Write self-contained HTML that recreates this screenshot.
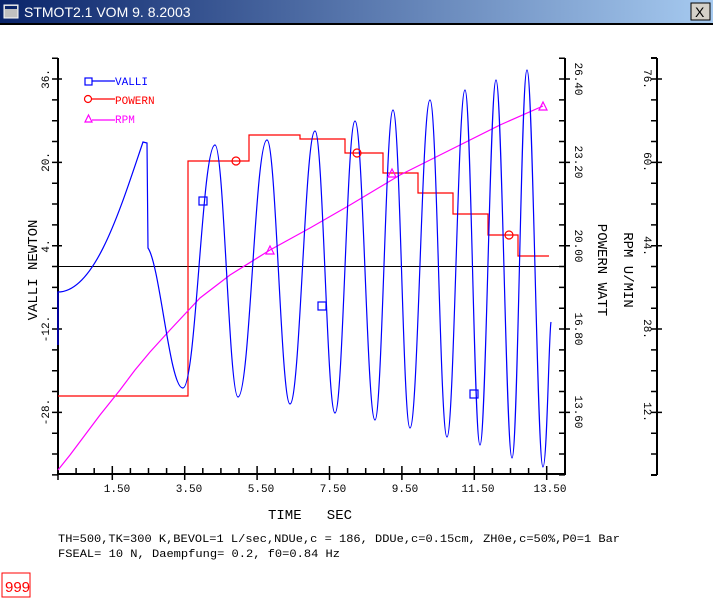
<!DOCTYPE html>
<html><head><meta charset="utf-8"><style>
html,body{margin:0;padding:0;background:#fff;width:713px;height:600px;overflow:hidden}
svg{display:block}
text{font-family:"Liberation Mono",monospace}
</style></head><body>
<svg width="713" height="600" viewBox="0 0 713 600" xmlns="http://www.w3.org/2000/svg">
<defs><linearGradient id="tb" x1="0" x2="1"><stop offset="0" stop-color="#0a246a"/><stop offset="1" stop-color="#a6caf0"/></linearGradient></defs>
<rect x="0" y="0" width="713" height="23" fill="url(#tb)"/>
<rect x="0" y="23" width="713" height="2" fill="#000"/>
<rect x="4" y="5" width="14" height="13" fill="#c0c0c0" stroke="#fff" stroke-width="1"/>
<rect x="5" y="6" width="12" height="3" fill="#0a246a"/>
<text x="24" y="17" font-size="14" fill="#fff" style="font-family:'Liberation Sans',sans-serif">STMOT2.1 VOM  9. 8.2003</text>
<rect x="691" y="3" width="19" height="17" fill="#d4d0c8" stroke="#000" stroke-width="1"/>
<text x="695" y="17" font-size="14" fill="#000" style="font-family:'Liberation Sans',sans-serif">X</text>

<g stroke="#000" stroke-width="2" fill="none">
<path d="M58 58V475M565 58V475M657 58V475M58 474H565M651 58h6M651 475h6"/>
</g>
<g stroke="#000" stroke-width="1.5" fill="none">
<path d="M52 58.2h6M52 99.9h6M52 120.7h6M52 141.5h6M52 183.2h6M52 204h6M52 224.9h6M52 266.5h6M52 287.4h6M52 308.2h6M52 349.9h6M52 370.7h6M52 391.5h6M52 433.2h6M52 454h6M52 474.9h6M52 79h10M52 162.4h10M52 245.7h10M52 329h10M52 412.4h10"/>
<path d="M559 58.2h6M559 99.9h6M559 120.7h6M559 141.5h6M559 183.2h6M559 204h6M559 224.9h6M559 266.5h6M559 287.4h6M559 308.2h6M559 349.9h6M559 370.7h6M559 391.5h6M559 433.2h6M559 454h6M559 474.9h6M559 79h11M559 162.4h11M559 245.7h11M559 329h11M559 412.4h11"/>
<path d="M651 99.9h6M651 120.7h6M651 141.5h6M651 183.2h6M651 204h6M651 224.9h6M651 266.5h6M651 287.4h6M651 308.2h6M651 349.9h6M651 370.7h6M651 391.5h6M651 433.2h6M651 454h6M651 79h11M651 162.4h11M651 245.7h11M651 329h11M651 412.4h11"/>
<path d="M76.1 474v-6M94.2 474v-6M130.4 474v-6M148.5 474v-6M166.6 474v-6M202.8 474v-6M220.9 474v-6M239 474v-6M275.2 474v-6M293.3 474v-6M311.4 474v-6M347.6 474v-6M365.7 474v-6M383.8 474v-6M420 474v-6M438.1 474v-6M456.2 474v-6M492.4 474v-6M510.5 474v-6M528.6 474v-6M58 474v6M112.3 466v14M184.7 466v14M257.1 466v14M329.5 466v14M401.9 466v14M474.3 466v14M546.7 466v14"/>
</g>
<path d="M58 266.5H565" stroke="#000" stroke-width="1"/>

<g font-size="11" fill="#000" text-anchor="middle">
<text transform="translate(49,79) rotate(-90)">36.</text>
<text transform="translate(49,162) rotate(-90)">20.</text>
<text transform="translate(49,246) rotate(-90)">4.</text>
<text transform="translate(49,329) rotate(-90)">-12.</text>
<text transform="translate(49,412) rotate(-90)">-28.</text>
<text transform="translate(575,79) rotate(90)">26.40</text>
<text transform="translate(575,162) rotate(90)">23.20</text>
<text transform="translate(575,246) rotate(90)">20.00</text>
<text transform="translate(575,329) rotate(90)">16.80</text>
<text transform="translate(575,412) rotate(90)">13.60</text>
<text transform="translate(644,79) rotate(90)">76.</text>
<text transform="translate(644,162) rotate(90)">60.</text>
<text transform="translate(644,246) rotate(90)">44.</text>
<text transform="translate(644,329) rotate(90)">28.</text>
<text transform="translate(644,412) rotate(90)">12.</text>
<text x="117" y="492">1.50</text>
<text x="189" y="492">3.50</text>
<text x="261" y="492">5.50</text>
<text x="333" y="492">7.50</text>
<text x="405" y="492">9.50</text>
<text x="478" y="492">11.50</text>
<text x="550" y="492">13.50</text>
</g>
<g font-size="14" fill="#000" text-anchor="middle">
<text transform="translate(37,270) rotate(-90)">VALLI NEWTON</text>
<text transform="translate(598,270) rotate(90)">POWERN WATT</text>
<text transform="translate(624,270) rotate(90)">RPM U/MIN</text>
<text x="310" y="519" xml:space="preserve">TIME   SEC</text>
</g>
<g font-size="11" fill="#000">
<text x="58" y="542" textLength="562" lengthAdjust="spacingAndGlyphs">TH=500,TK=300 K,BEVOL=1 L/sec,NDUe,c = 186, DDUe,c=0.15cm, ZH0e,c=50%,P0=1 Bar</text>
<text x="58" y="557" textLength="282" lengthAdjust="spacingAndGlyphs">FSEAL= 10 N, Daempfung= 0.2, f0=0.84 Hz</text>
</g>
<rect x="2" y="573" width="28" height="24" fill="none" stroke="#f00" stroke-width="1"/>
<text x="5" y="592" font-size="15" fill="#f00" style="font-family:'Liberation Sans',sans-serif">999</text>

<path d="M58 396H188V161H249V135H300V139H345V153H383V173H418V193H453V214H488V235H518V256H549" fill="none" stroke="#f00" stroke-width="1.2"/>
<polyline points="58,470 70,455 85,435 100,415 120,390 135,370 150,352 170,330 200,298 230,275 270,250 310,228 350,205 400,175 450,150 500,125 543,106" fill="none" stroke="#f0f" stroke-width="1.2"/>
<path d="M58,345 L58,292 C95,292 120,210 143,142 L147,143 L148,248 C160,265 170,390 183,388 C196,388 202,145 215,145 C224,145 229,397 238,397 C250,397 255,140 267,140 C276,140 281,404 290,404 C300,404 305,131 315,131 C323,131 327,413 335,413 C343,413 347,121 355,121 C363,121 367,420 375,420 C382,420 386,110 393,110 C400,110 403,428 410,428 C418,428 422,100 430,100 C437,100 440,437 447,437 C454,437 458,90 465,90 C471,90 474,445 480,445 C486,445 490,80 496,80 C502,80 506,458 512,458 C518,458 521,70 527,70 C533,70 537,467 543,467 C547,467 549,330 551,322" fill="none" stroke="#00f" stroke-width="1.2"/>

<g fill="none" stroke-width="1.2">
<rect x="199" y="197" width="8" height="8" stroke="#00f"/>
<rect x="318" y="302" width="8" height="8" stroke="#00f"/>
<rect x="470" y="390" width="8" height="8" stroke="#00f"/>
<circle cx="236" cy="161" r="4" stroke="#f00"/>
<circle cx="357" cy="153" r="4" stroke="#f00"/>
<circle cx="509" cy="235" r="4" stroke="#f00"/>
<path d="M266 254L270 246L274 254Z M388 177L392 169L396 177Z M539 110L543 102L547 110Z" stroke="#f0f"/>
<rect x="85" y="78" width="7" height="7" stroke="#00f"/>
<path d="M92 81H115" stroke="#00f"/>
<circle cx="88" cy="99" r="3.5" stroke="#f00"/>
<path d="M92 99H115" stroke="#f00"/>
<path d="M85 122L88.5 115L92 122Z" stroke="#f0f"/>
<path d="M92 120H115" stroke="#f0f"/>
</g>
<g font-size="11">
<text x="115" y="85" fill="#00f">VALLI</text>
<text x="115" y="104" fill="#f00">POWERN</text>
<text x="115" y="123" fill="#f0f">RPM</text>
</g>
</svg>
</body></html>
